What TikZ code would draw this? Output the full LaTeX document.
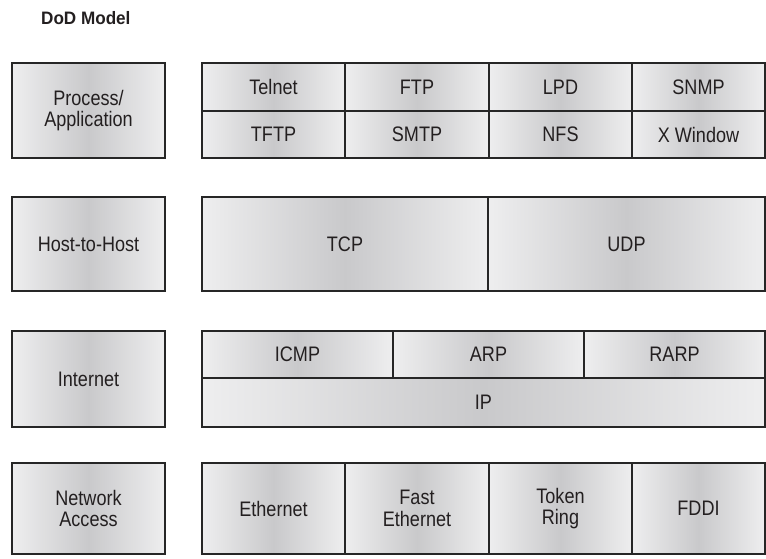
\documentclass[tikz,border=0pt]{standalone}
\usepackage{fontspec}
\setmainfont{Liberation Sans}
\newfontfamily\cellfont[FakeStretch=0.86]{Liberation Sans}
\newfontfamily\headfont[FakeStretch=0.95]{Liberation Sans}
\usetikzlibrary{positioning}
\definecolor{cellEdge}{HTML}{262626}
\definecolor{cellText}{HTML}{231F20}
\definecolor{metalLight}{HTML}{EEEEEF}
\definecolor{metalDark}{HTML}{C9C9CB}

\begin{document}
\begin{tikzpicture}[
  x=1pt, y=-1pt,
  %% Box styles
  layer/.style={
    draw=cellEdge, line width=2.4pt, outer sep=0pt, inner sep=0pt,
    left color=metalLight, right color=metalLight, middle color=metalDark,
    align=center, text=cellText,
    font=\cellfont\fontsize{21}{21.5}\selectfont
  },
  cell/.style 2 args={layer, minimum width=#1, minimum height=#2},
  heading/.style={font=\headfont\bfseries\fontsize{18}{20}\selectfont, text=cellText,
                  inner sep=0pt, anchor=base west},
]
\useasboundingbox (0,0) rectangle (766,558);

%% -- Title -------------------------------------------------------------------
\node[heading] (dod) at (41,24.5) {DoD Model};

%% -- DoD layers ----------------------------------------------------------------
\node[cell={153}{95}, anchor=north west] (proc)   at (12,63)  {Process/\\Application};
\node[cell={153}{94}, anchor=north west] (host)   at (12,197) {Host-to-Host};
\node[cell={153}{96}, anchor=north west] (inet)   at (12,331) {Internet};
\node[cell={153}{91}, anchor=north west] (netacc) at (12,463) {Network\\Access};

%% -- Process/Application protocols ---------------------------------------------
\node[cell={143}{48}, anchor=north west] (telnet) at (202,63) {Telnet};
\node[cell={144}{48}, right=0pt of telnet] (ftp)  {FTP};
\node[cell={143}{48}, right=0pt of ftp]    (lpd)  {LPD};
\node[cell={133}{48}, right=0pt of lpd]    (snmp) {SNMP};
\node[cell={143}{47}, below=0pt of telnet] (tftp) {TFTP};
\node[cell={144}{47}, right=0pt of tftp]   (smtp) {SMTP};
\node[cell={143}{47}, right=0pt of smtp]   (nfs)  {NFS};
\node[cell={133}{47}, right=0pt of nfs]    (xwin) {X Window};

%% -- Host-to-Host protocols ----------------------------------------------------
\node[cell={286}{94}, anchor=north west] (tcp) at (202,197) {TCP};
\node[cell={277}{94}, right=0pt of tcp]  (udp) {UDP};

%% -- Internet protocols ----------------------------------------------------------
\node[cell={191}{47}, anchor=north west] (icmp) at (202,331) {ICMP};
\node[cell={191}{47}, right=0pt of icmp] (arp)  {ARP};
\node[cell={181}{47}, right=0pt of arp]  (rarp) {RARP};
\node[cell={563}{49}, anchor=north west] (ip) at (202,378) {IP};

%% -- Network Access protocols --------------------------------------------------
\node[cell={143}{91}, anchor=north west] (eth) at (202,463) {Ethernet};
\node[cell={144}{91}, right=0pt of eth]     (fasteth) {Fast\\Ethernet};
\node[cell={143}{91}, right=0pt of fasteth] (token)   {Token\\Ring};
\node[cell={133}{91}, right=0pt of token]   (fddi)    {FDDI};

\end{tikzpicture}
\end{document}
